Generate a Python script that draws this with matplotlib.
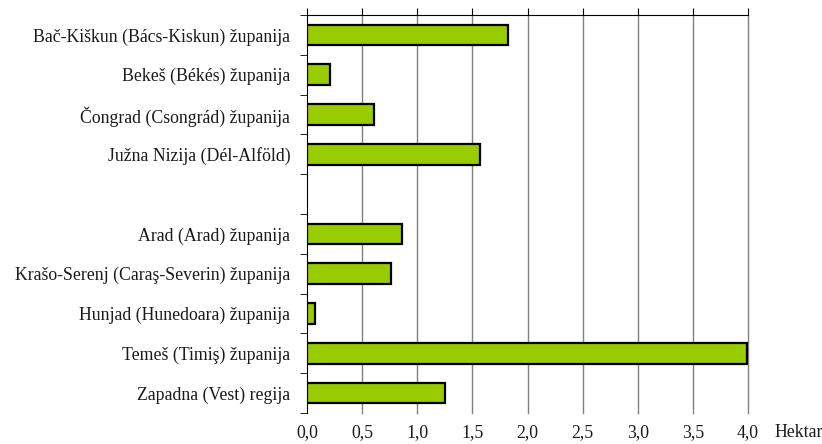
import numpy as np
import matplotlib.pyplot as plt
from matplotlib.ticker import FixedLocator

# Podaci (hektar), redoslijed odozgo prema dolje; prazno mjesto = razmak
categories = [
    "Bač-Kiškun (Bács-Kiskun) županija",
    "Bekeš (Békés) županija",
    "Čongrad (Csongrád) županija",
    "Južna Nizija (Dél-Alföld)",
    "",
    "Arad (Arad) županija",
    "Krašo-Serenj (Caraş-Severin) županija",
    "Hunjad (Hunedoara) županija",
    "Temeš (Timiş) županija",
    "Zapadna (Vest) regija",
]
values = [1.82, 0.21, 0.61, 1.57, np.nan, 0.86, 0.76, 0.07, 3.99, 1.25]
x_ticks = [0.0, 0.5, 1.0, 1.5, 2.0, 2.5, 3.0, 3.5, 4.0]
x_labels = ["0,0", "0,5", "1,0", "1,5", "2,0", "2,5", "3,0", "3,5", "4,0"]

plt.rcParams['font.family'] = ['Liberation Serif', 'DejaVu Serif']
fs = 12.8

fig = plt.figure(figsize=(8.22, 4.44), dpi=100)
ax = fig.add_axes([307 / 822, 1 - 413 / 444, 441 / 822, 398 / 444])

n = len(categories)
pos = np.arange(n)
ax.barh(pos, values, height=0.52, color='#99CC00', edgecolor='black',
        linewidth=1.6, zorder=3)

ax.set_xlim(0, 4.0)
ax.set_ylim(n - 0.5, -0.5)

# Gitter
for xv in x_ticks[1:]:
    ax.axvline(xv, color='#808080', linewidth=1.0, zorder=1, clip_on=False)

ax.set_xticks(x_ticks)
ax.set_xticklabels(x_labels, fontsize=fs, color='#1a1a1a')
ax.tick_params(axis='x', top=True, bottom=False, labeltop=False,
               labelbottom=True, direction='out', length=5, pad=3)

ax.set_yticks(pos)
ax.set_yticklabels(categories, fontsize=fs, color='#1a1a1a')
ax.yaxis.set_minor_locator(FixedLocator(np.arange(n + 1) - 0.5))
ax.tick_params(axis='y', which='major', length=0, pad=12)
ax.tick_params(axis='y', which='minor', length=5, direction='out')

ax.spines['bottom'].set_visible(False)
ax.spines['right'].set_visible(False)
ax.spines['top'].set_color('black')
ax.spines['left'].set_color('black')

fig.text(774 / 822, 1 - 432 / 444, "Hektar", fontsize=fs, color='#1a1a1a',
         va='center', ha='left')

fig.savefig('out.png', dpi=100)
